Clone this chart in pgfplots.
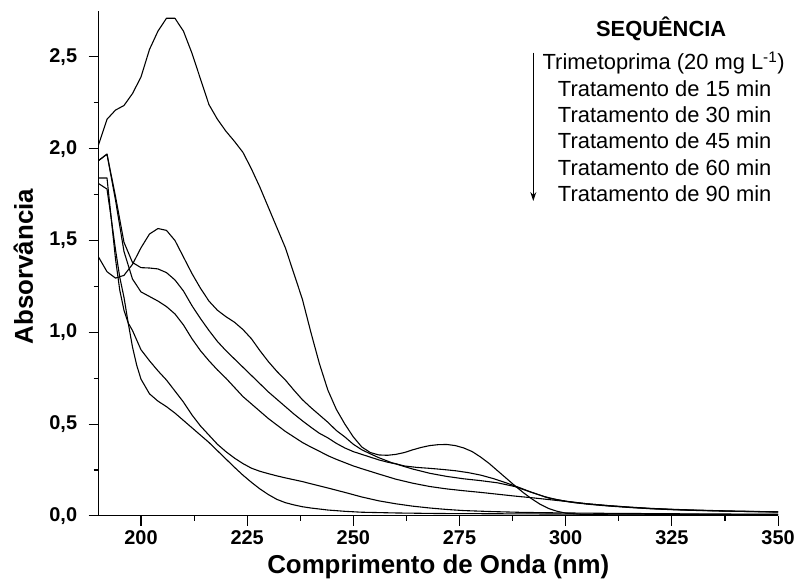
\documentclass[border=0pt]{standalone}
\usepackage{fontspec}
\setmainfont{Liberation Sans}
\usepackage{pgfplots}
\pgfplotsset{compat=1.18}
\usetikzlibrary{arrows.meta}
\begin{document}
\begin{tikzpicture}
\begin{axis}[
  at={(0,0)}, anchor=south west,
  scale only axis, width=683pt, height=507.5pt,
  xmin=190, xmax=350, ymin=0, ymax=2.75,
  axis x line*=bottom, axis y line*=left,
  axis line style={line width=1.1pt,-},
  xtick={200,225,...,350}, minor x tick num=1,
  ytick={0,0.5,...,2.5}, minor y tick num=1,
  tick align=outside,
  major tick length=10pt, minor tick length=5pt,
  every tick/.style={black, line width=1.1pt},
  /pgf/number format/assume math mode=true,
  ticklabel style={font=\fontsize{20}{24}\selectfont\bfseries},
  xticklabel style={yshift=-1pt},
  yticklabel style={/tikz/xshift=-8pt},
  yticklabel style={/pgf/number format/.cd, fixed, fixed zerofill, precision=1, use comma},
  xlabel={Comprimento de Onda (nm)},
  ylabel={Absorvância},
  xlabel style={font=\fontsize{26}{30}\selectfont\bfseries, at={(axis description cs:0.5,-0.1147)}, anchor=base},
  ylabel style={font=\fontsize{26}{30}\selectfont\bfseries, at={(axis description cs:-0.0966,0.4936)}, anchor=base},
  cycle list={black,line width=1.1pt,line join=round,mark=none\\},
  clip=false,
]
% Trimetoprima
\addplot coordinates {(190,2.02)(192,2.16)(194,2.21)(196,2.235)(198,2.30)(200,2.39)(202,2.54)(204,2.64)(206,2.71)(208,2.71)(210,2.64)(212,2.52)(214,2.38)(216,2.24)(218,2.16)(220,2.095)(222,2.04)(224,1.98)(226,1.89)(228,1.79)(230,1.68)(232,1.57)(234,1.46)(236,1.32)(238,1.18)(240,1.00)(242,0.83)(244,0.685)(246,0.58)(248,0.50)(250,0.43)(252,0.375)(254,0.345)(256,0.332)(258,0.33)(260,0.335)(262,0.345)(264,0.36)(266,0.373)(268,0.383)(270,0.388)(272,0.389)(274,0.383)(276,0.37)(278,0.35)(280,0.32)(282,0.285)(284,0.245)(286,0.205)(288,0.165)(290,0.127)(292,0.093)(294,0.063)(296,0.04)(298,0.025)(300,0.015)(304,0.008)(310,0.006)(330,0.004)(350,0.003)};
% 15 min
\addplot coordinates {(190,1.41)(192,1.33)(194,1.295)(196,1.31)(198,1.37)(200,1.46)(202,1.535)(204,1.565)(206,1.555)(208,1.50)(210,1.41)(212,1.32)(214,1.24)(216,1.17)(218,1.12)(220,1.085)(222,1.055)(224,1.015)(226,0.965)(228,0.90)(230,0.84)(232,0.787)(234,0.74)(236,0.685)(238,0.633)(240,0.59)(242,0.55)(244,0.51)(246,0.465)(248,0.43)(250,0.39)(252,0.36)(254,0.338)(256,0.317)(259,0.29)(262,0.272)(265,0.264)(268,0.259)(271,0.253)(274,0.246)(277,0.236)(280,0.222)(283,0.203)(286,0.18)(289,0.155)(292,0.128)(295,0.105)(298,0.088)(302,0.072)(306,0.062)(310,0.054)(315,0.046)(320,0.039)(325,0.034)(330,0.03)(340,0.025)(350,0.021)};
% 30 min
\addplot coordinates {(190,1.935)(192,1.97)(194,1.74)(196,1.49)(198,1.38)(200,1.352)(202,1.35)(204,1.345)(206,1.325)(208,1.285)(210,1.225)(212,1.145)(214,1.075)(216,1.01)(218,0.95)(220,0.90)(222,0.855)(224,0.81)(226,0.765)(228,0.72)(230,0.675)(232,0.635)(234,0.595)(236,0.555)(238,0.518)(240,0.483)(242,0.45)(244,0.425)(246,0.395)(248,0.37)(250,0.35)(252,0.335)(254,0.32)(256,0.305)(258,0.293)(260,0.283)(264,0.255)(268,0.232)(272,0.215)(276,0.202)(280,0.192)(284,0.18)(288,0.16)(292,0.128)(296,0.097)(300,0.08)(305,0.066)(310,0.056)(315,0.047)(320,0.04)(325,0.035)(330,0.031)(340,0.025)(350,0.022)};
% 45 min
\addplot coordinates {(190,1.935)(192,1.97)(194,1.72)(196,1.44)(198,1.29)(200,1.22)(202,1.195)(204,1.17)(206,1.14)(208,1.10)(210,1.04)(212,0.965)(214,0.90)(216,0.845)(218,0.795)(220,0.75)(222,0.70)(224,0.65)(226,0.61)(228,0.57)(230,0.53)(232,0.495)(234,0.46)(236,0.43)(238,0.40)(240,0.375)(242,0.352)(244,0.328)(246,0.308)(248,0.29)(250,0.272)(252,0.257)(256,0.228)(260,0.20)(264,0.178)(268,0.16)(272,0.147)(276,0.137)(280,0.128)(284,0.118)(288,0.108)(292,0.099)(296,0.089)(300,0.079)(305,0.066)(310,0.056)(315,0.048)(320,0.041)(325,0.036)(330,0.032)(340,0.026)(350,0.022)};
% 60 min
\addplot coordinates {(190,1.84)(192,1.84)(193,1.62)(194,1.40)(195,1.23)(196,1.12)(197,1.05)(198,1.01)(200,0.905)(202,0.845)(204,0.79)(206,0.74)(208,0.68)(210,0.62)(212,0.55)(214,0.49)(216,0.44)(218,0.39)(220,0.35)(222,0.315)(224,0.285)(226,0.26)(228,0.243)(230,0.23)(232,0.218)(234,0.207)(236,0.197)(238,0.187)(240,0.175)(244,0.152)(248,0.128)(252,0.103)(256,0.082)(260,0.066)(264,0.053)(268,0.043)(272,0.035)(276,0.029)(282,0.024)(290,0.019)(300,0.016)(310,0.014)(330,0.011)(350,0.009)};
% 90 min
\addplot coordinates {(190,1.81)(192,1.78)(193,1.62)(194,1.45)(195,1.30)(196,1.19)(197,1.05)(198,0.92)(199,0.82)(200,0.745)(202,0.665)(204,0.625)(206,0.595)(208,0.56)(210,0.52)(212,0.48)(214,0.44)(216,0.40)(218,0.355)(220,0.31)(222,0.265)(224,0.222)(226,0.183)(228,0.147)(230,0.116)(232,0.09)(234,0.072)(236,0.06)(238,0.05)(240,0.043)(244,0.032)(248,0.025)(252,0.02)(260,0.016)(270,0.013)(300,0.01)(350,0.008)};
\end{axis}
\node[font=\fontsize{22}{26}\selectfont\bfseries, anchor=base] at (565.5pt,481.8pt) {SEQUÊNCIA};
\begin{scope}[every node/.style={font=\fontsize{22}{26}\selectfont, anchor=base}]
\node at (568pt,448.5pt) {Trimetoprima (20 mg L\textsuperscript{-1})};
\node at (569pt,421.8pt) {Tratamento de 15 min};
\node at (569pt,395.2pt) {Tratamento de 30 min};
\node at (569pt,369.2pt) {Tratamento de 45 min};
\node at (569pt,342.5pt) {Tratamento de 60 min};
\node at (569pt,315.8pt) {Tratamento de 90 min};
\end{scope}
\draw[line width=1pt, -{Stealth[length=9pt,width=6pt]}] (437pt,465.5pt) -- (437pt,316.5pt);
\path[use as bounding box] (-99pt,-64.5pt) rectangle (699pt,518.5pt);
\end{tikzpicture}
\end{document}
